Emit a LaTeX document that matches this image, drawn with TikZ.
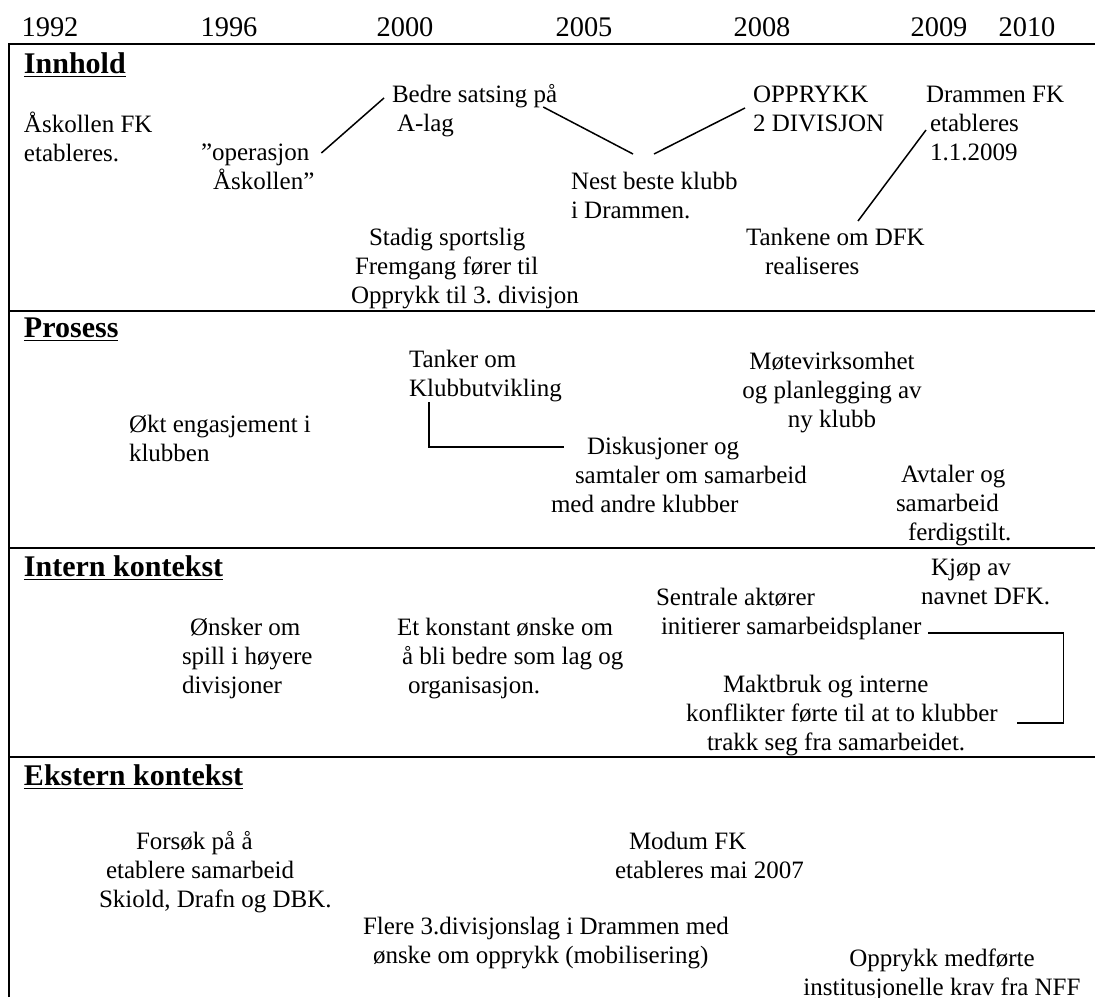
\documentclass[tikz,border=0pt]{standalone}
\usepackage{fontspec}
\setmainfont{Liberation Serif}
\frenchspacing
\begin{document}
\begin{tikzpicture}[x=0.5pt, y=-0.5pt, line width=1pt,
    txt/.style={inner sep=0pt, anchor=base west, align=left, font=\fontsize{12.5pt}{14.5pt}\selectfont},
    ctxt/.style={txt, anchor=base, align=center},
    head/.style={inner sep=0pt, anchor=base west, font=\fontsize{15pt}{18pt}\selectfont\bfseries},
    yearlbl/.style={inner sep=0pt, anchor=base, font=\fontsize{14.2pt}{16pt}\selectfont},
    link/.style={line width=0.75pt}]

		\useasboundingbox (0,0) rectangle (1095,997);

		%the time axis
		\foreach \yr/\xpos in {1992/50,1996/229,2000/405,2005/584,2008/762,2009/939,2010/1027}
			\node[yearlbl] (y\yr) at (\xpos,36) {\yr};

		%the frame and the four bands
		\draw (9,997) -- (9,44) -- (1095,44);
		\foreach \ypos in {311,548,757}
			\draw (9,\ypos) -- (1095,\ypos);

		\node[head] (innhold) at (23,73) {\underline{Innhold}};
		\node[head] (prosess) at (23,337) {\underline{Prosess}};
		\node[head] (intern) at (23,576) {\underline{Intern kontekst}};
		\node[head] (ekstern) at (23,785) {\underline{Ekstern kontekst}};

		%innhold (nodes sit on the baseline of their last line)
		\node[txt] (askollen) at (23,161) {Åskollen FK\\etableres.};
		\node[txt] (operasjon) at (200,189) {”operasjon\\\hspace*{6pt}Åskollen”};
		\node[txt] (bedre) at (391,131) {Bedre satsing på\\\hspace*{2.5pt}A-lag};
		\node[txt] (opprykk) at (752,131) {OPPRYKK\\2 DIVISJON};
		\node[txt] (drammen) at (925,160) {Drammen FK\\\hspace*{2pt}etableres\\\hspace*{2pt}1.1.2009};
		\node[txt] (nest) at (570,218) {Nest beste klubb\\i Drammen.};
		\node[txt] (tankene) at (745,274) {Tankene om DFK\\\hspace*{9.5pt}realiseres};
		\node[txt] (stadig) at (350,303) {\hspace*{9pt}Stadig sportslig\\\hspace*{2pt}Fremgang fører til\\Opprykk til 3. divisjon};

		\draw[link] ([xshift=3pt,yshift=18pt]operasjon.base east) -- ([xshift=-3.5pt,yshift=16.5pt]bedre.base west);
		\draw[link] ([xshift=-7.5pt,yshift=12pt]bedre.base east) -- ([xshift=31.5pt,yshift=32pt]nest.base west);
		\draw[link] ([xshift=42pt,yshift=32pt]nest.base west) -- ([xshift=-3.5pt,yshift=11.5pt]opprykk.base west);
		\draw[link] ([xshift=0.5pt,yshift=15pt]drammen.base west) -- ([xshift=56.5pt,yshift=26.5pt]tankene.base west);

		%prosess
		\node[txt] (tanker) at (408,396) {Tanker om\\Klubbutvikling};
		\node[txt] (okt) at (128,461) {Økt engasjement i\\klubben};
		\node[ctxt] (mote) at (832,427) {Møtevirksomhet\\og planlegging av\\ny klubb};
		\node[txt] (disk) at (550,512) {\hspace*{18pt}Diskusjoner og\\\hspace*{12pt}samtaler om samarbeid\\med andre klubber};
		\node[txt] (avtaler) at (895,540) {\hspace*{2.5pt}Avtaler og\\samarbeid\\\hspace*{6pt}ferdigstilt.};

		\draw[link] ([xshift=10.5pt,yshift=-3pt]tanker.base west) |- ([xshift=7pt,yshift=32.5pt]disk.base west);

		%intern kontekst
		\node[txt] (kjop) at (920,604) {\hspace*{5pt}Kjøp av\\navnet DFK.};
		\node[txt] (sentral) at (655,634) {Sentrale aktører\\\hspace*{2.5pt}initierer samarbeidsplaner};
		\node[txt] (onsker) at (181,693) {\hspace*{4pt}Ønsker om\\spill i høyere\\divisjoner};
		\node[txt] (konstant) at (396,693) {Et konstant ønske om\\\hspace*{2.5pt}å bli bedre som lag og\\\hspace*{5.5pt}organisasjon.};
		\node[txt] (makt) at (685,750) {\hspace*{18.5pt}Maktbruk og interne\\konflikter førte til at to klubber\\\hspace*{10.5pt}trakk seg fra samarbeidet.};

		\draw[link] ([xshift=3pt,yshift=0.5pt]sentral.base east) -- ++(135,0) |- ([xshift=9pt,yshift=13.5pt]makt.base east);

		%ekstern kontekst
		\node[txt] (forsok) at (98,907) {\hspace*{18.5pt}Forsøk på å\\\hspace*{3.5pt}etablere samarbeid\\Skiold, Drafn og DBK.};
		\node[txt] (modum) at (614,878) {\hspace*{7pt}Modum FK\\etableres mai 2007};
		\node[txt] (flere) at (362,963) {Flere 3.divisjonslag i Drammen med\\\hspace*{5pt}ønske om opprykk (mobilisering)};
		\node[ctxt] (nff) at (942,995) {Opprykk medførte\\institusjonelle krav fra NFF};

	\end{tikzpicture}
\end{document}
